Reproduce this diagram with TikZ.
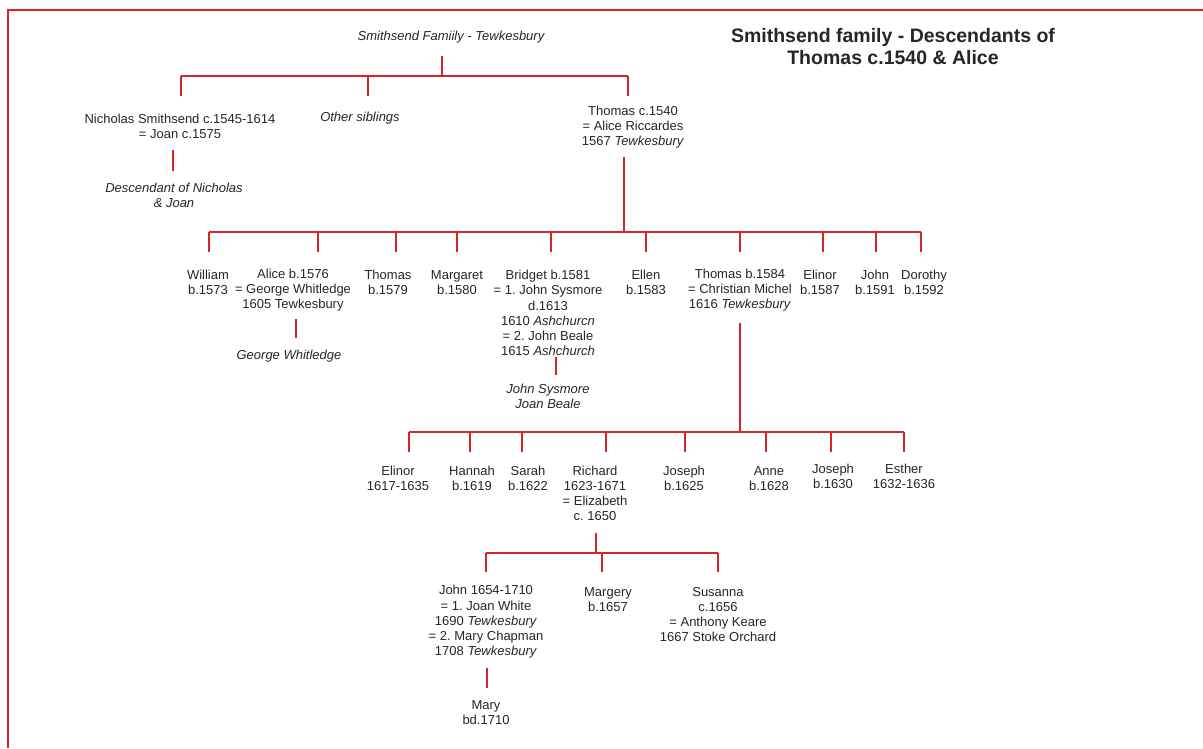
\documentclass[tikz,border=0pt]{standalone}
\usepackage{fontspec}
\setmainfont{Liberation Sans}
\definecolor{lred}{RGB}{216,36,36}
\definecolor{txt}{RGB}{38,38,38}
\frenchspacing
\begin{document}
\begin{tikzpicture}[x=1pt,y=-1pt,
  person/.style={align=center,font=\fontsize{13}{15.2}\selectfont,text=txt,inner sep=0pt},
  ital/.style={align=center,font=\fontsize{13}{15.2}\selectfont\itshape,text=txt,inner sep=0pt},
  titlestyle/.style={align=center,font=\fontsize{19.5}{22.5}\selectfont\bfseries,text=txt,inner sep=0pt},
  link/.style={draw=lred,line width=1.8pt},
  frameline/.style={draw=lred,line width=2.4pt}]
\useasboundingbox[fill=white] (0,0) rectangle (1203,748);
% frame
\coordinate (fa) at (8,748);
\coordinate (fb) at (8,10);
\coordinate (fc) at (1203,10);
\draw[frameline] (fa) -- (fb) -- (fc);

% texts
\node[titlestyle] (title) at (893,46.5) {Smithsend family - Descendants of\\Thomas c.1540 \& Alice};
\node[ital] (top) at (451,37) {Smithsend Famiily - Tewkesbury};
\node[person] (nich) at (180,126) {Nicholas Smithsend c.1545-1614\\= Joan c.1575};
\node[ital] (other) at (360,118) {Other siblings};
\node[person] (thom) at (633,127) {Thomas c.1540\\= Alice Riccardes\\1567 \textit{Tewkesbury}};
\node[ital] (desc) at (174,195.5) {Descendant of Nicholas\\\& Joan};

\node[person] (william) at (208,282.5) {William\\b.1573};
\node[person] (alice) at (293,290) {Alice b.1576\\= George Whitledge\\1605 Tewkesbury};
\node[ital] (george) at (289,356) {George Whitledge};
\node[person] (thomasb) at (388,282.5) {Thomas\\b.1579};
\node[person] (margaret) at (457,282.5) {Margaret\\b.1580};
\node[person] (bridget) at (548,313) {Bridget b.1581\\= 1. John Sysmore\\d.1613\\1610 \textit{Ashchurcn}\\= 2. John Beale\\1615 \textit{Ashchurch}};
\node[ital] (jsjb) at (548,396.5) {John Sysmore\\Joan Beale};
\node[person] (ellen) at (646,282.5) {Ellen\\b.1583};
\node[person] (thomasc) at (740,290) {Thomas b.1584\\= Christian Michel\\1616 \textit{Tewkesbury}};
\node[person] (elinor) at (820,282.5) {Elinor\\b.1587};
\node[person] (john) at (875,282.5) {John\\b.1591};
\node[person] (dorothy) at (924,282.5) {Dorothy\\b.1592};

\node[person] (elinorb) at (398,478.5) {Elinor\\1617-1635};
\node[person] (hannah) at (472,478.5) {Hannah\\b.1619};
\node[person] (sarah) at (528,478.5) {Sarah\\b.1622};
\node[person] (richard) at (595,493.5) {Richard\\1623-1671\\= Elizabeth\\c. 1650};
\node[person] (joseph) at (684,478.5) {Joseph\\b.1625};
\node[person] (anne) at (769,478.5) {Anne\\b.1628};
\node[person] (josephb) at (833,476.5) {Joseph\\b.1630};
\node[person] (esther) at (904,476.5) {Esther\\1632-1636};

\node[person] (johnb) at (486,622) {John 1654-1710\\= 1. Joan White\\1690 \textit{Tewkesbury}\\= 2. Mary Chapman\\1708 \textit{Tewkesbury}};
\node[person] (margery) at (608,599.5) {Margery\\b.1657};
\node[person] (susanna) at (718,614.5) {Susanna\\c.1656\\= Anthony Keare\\1667 Stoke Orchard};
\node[person] (mary) at (486,712.5) {Mary\\bd.1710};

% generation 0
\coordinate (s0a) at (442,56);
\coordinate (s0b) at (442,76);
\coordinate (b0l) at (181,76);
\coordinate (b0r) at (628,76);
\draw[link] (s0a) -- (s0b);
\draw[link] (b0l) -- (b0r);
\foreach \x/\n in {181/a,368/b,628/c}{
  \coordinate (d0\n) at (\x,96);
  \draw[link] (d0\n |- b0l) -- (d0\n);
}
% Nicholas
\coordinate (n1) at (173,150);
\coordinate (n2) at (173,171);
\draw[link] (n1) -- (n2);
% Thomas c.1540
\coordinate (s1a) at (624,157);
\coordinate (s1b) at (624,232);
\coordinate (b1l) at (209,232);
\coordinate (b1r) at (921,232);
\draw[link] (s1a) -- (s1b);
\draw[link] (b1l) -- (b1r);
\foreach \x/\n in {209/a,318/b,396/c,457/d,551/e,646/f,740/g,823/h,876/i,921/j}{
  \coordinate (d1\n) at (\x,252);
  \draw[link] (d1\n |- b1l) -- (d1\n);
}
% Alice
\coordinate (a1) at (296,319);
\coordinate (a2) at (296,338);
\draw[link] (a1) -- (a2);
% Bridget
\coordinate (br1) at (556,357);
\coordinate (br2) at (556,375);
\draw[link] (br1) -- (br2);
% Thomas b.1584
\coordinate (s2a) at (740,323);
\coordinate (s2b) at (740,432);
\coordinate (b2l) at (409,432);
\coordinate (b2r) at (904,432);
\draw[link] (s2a) -- (s2b);
\draw[link] (b2l) -- (b2r);
\foreach \x/\n in {409/a,470/b,522/c,606/d,685/e,766/f,831/g,904/h}{
  \coordinate (d2\n) at (\x,452);
  \draw[link] (d2\n |- b2l) -- (d2\n);
}
% Richard
\coordinate (s3a) at (596,533);
\coordinate (s3b) at (596,553);
\coordinate (b3l) at (486,553);
\coordinate (b3r) at (718,553);
\draw[link] (s3a) -- (s3b);
\draw[link] (b3l) -- (b3r);
\foreach \x/\n in {486/a,602/b,718/c}{
  \coordinate (d3\n) at (\x,572);
  \draw[link] (d3\n |- b3l) -- (d3\n);
}
% John
\coordinate (j1) at (487,668);
\coordinate (j2) at (487,688);
\draw[link] (j1) -- (j2);
\end{tikzpicture}
\end{document}
